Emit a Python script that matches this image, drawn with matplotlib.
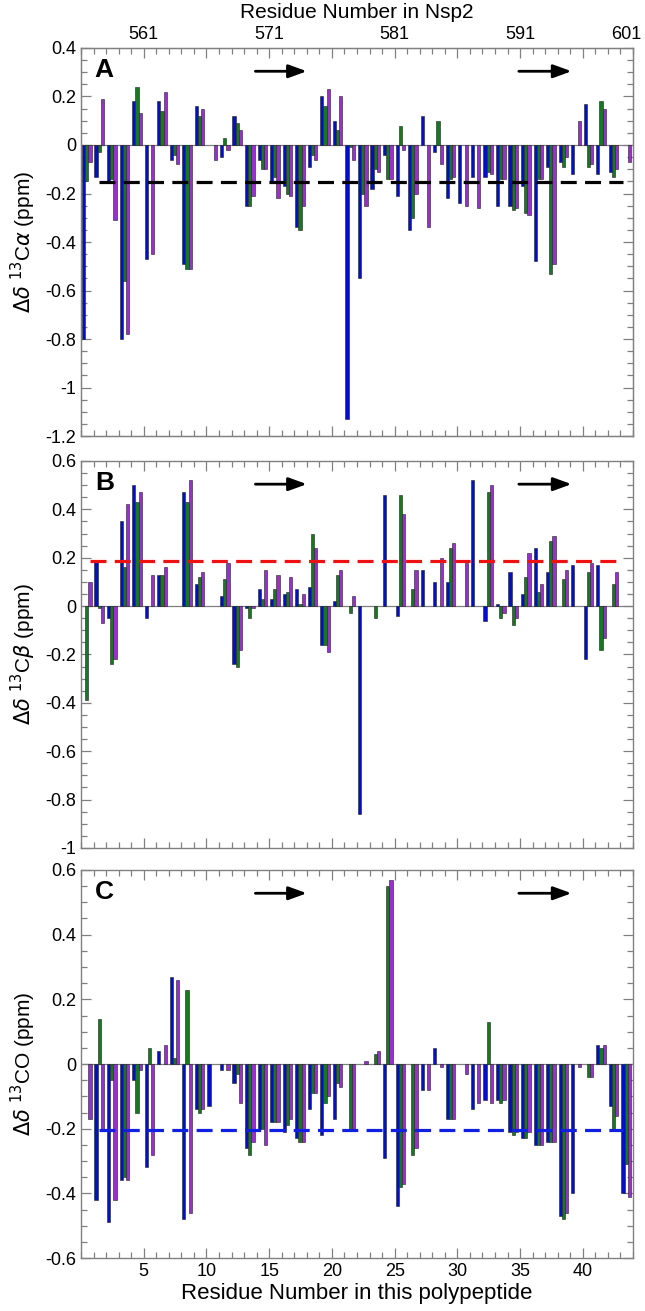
"""Chemical shift deviations (Ca, Cb, CO) per residue, three panels."""

import numpy as np
import matplotlib
matplotlib.use("Agg")
import matplotlib.pyplot as plt
from matplotlib.ticker import MultipleLocator, FuncFormatter

nan = np.nan
plt.rcParams['font.family'] = ['Liberation Sans', 'DejaVu Sans']

# residue index (0..43), bar group for each
residues = np.arange(44)

# panel A: delta 13C alpha
ca_blue = [-0.80, -0.13, -0.15, -0.80, 0.18, -0.47, 0.18, -0.06, -0.49, 0.16,
           nan, -0.05, 0.12, -0.25, -0.06, -0.15, -0.17, -0.34, -0.09, 0.20,
           0.10, -1.13, -0.55, -0.18, -0.04, -0.21, -0.35, 0.12, -0.03, -0.22,
           -0.24, -0.13, -0.13, -0.25, -0.25, -0.17, -0.48, -0.09, -0.07, -0.12,
           0.17, -0.12, -0.11, nan]
ca_green = [-0.15, -0.03, -0.14, -0.56, 0.24, nan, 0.14, -0.04, -0.51, 0.12,
            nan, 0.03, 0.09, -0.25, -0.10, -0.13, -0.20, -0.35, -0.04, 0.16,
            0.06, -0.01, -0.20, -0.10, -0.14, 0.08, -0.30, nan, 0.10, -0.14,
            nan, nan, -0.11, -0.14, -0.27, -0.28, -0.14, -0.53, -0.09, nan,
            -0.09, 0.18, -0.13, nan]
ca_purple = [-0.07, 0.19, -0.31, -0.78, 0.13, -0.45, 0.22, -0.08, -0.51, 0.15,
             -0.06, -0.02, 0.06, -0.21, -0.10, -0.22, -0.21, -0.25, -0.06, 0.23,
             0.20, -0.06, -0.25, -0.11, -0.14, -0.02, -0.20, -0.34, -0.08, -0.13,
             -0.25, -0.26, -0.12, -0.14, -0.26, -0.29, -0.14, -0.49, -0.05, 0.10,
             -0.08, 0.15, -0.10, -0.07]

# panel B: delta 13C beta
cb_blue = [nan, 0.19, -0.05, 0.35, 0.50, -0.05, 0.13, nan, 0.47, 0.09,
           nan, 0.04, -0.24, -0.01, 0.07, 0.03, 0.05, 0.07, 0.08, -0.16,
           0.02, nan, -0.86, nan, 0.46, -0.04, nan, 0.15, 0.10, 0.10,
           nan, 0.52, -0.06, 0.01, 0.14, 0.05, 0.24, 0.14, nan, 0.17,
           -0.22, 0.17, nan, nan]
cb_green = [-0.39, -0.01, -0.24, 0.16, 0.43, nan, 0.13, nan, 0.43, 0.12,
            nan, 0.11, -0.25, -0.05, 0.03, 0.07, 0.06, 0.01, 0.30, -0.16,
            0.13, -0.03, nan, -0.05, nan, 0.46, 0.07, nan, nan, 0.24,
            nan, nan, 0.47, -0.05, -0.08, 0.12, 0.06, 0.27, 0.11, nan,
            0.14, -0.18, 0.09, nan]
cb_purple = [0.10, -0.07, -0.22, 0.42, 0.47, 0.13, 0.16, nan, 0.52, 0.14,
             nan, 0.18, -0.18, -0.01, 0.15, 0.13, 0.12, 0.05, 0.24, -0.19,
             0.15, 0.04, nan, nan, nan, 0.38, 0.15, nan, 0.20, 0.26,
             0.18, nan, 0.50, -0.03, -0.05, 0.22, 0.09, 0.29, 0.15, nan,
             0.18, -0.13, 0.14, nan]

# panel C: delta 13CO
co_blue = [nan, -0.42, -0.49, -0.36, -0.05, -0.32, 0.04, 0.27, -0.48, -0.14,
           -0.13, -0.02, -0.06, -0.26, -0.20, -0.18, -0.21, -0.23, -0.14, -0.22,
           -0.17, nan, nan, nan, -0.29, -0.44, nan, -0.08, 0.05, -0.17,
           nan, -0.14, -0.11, -0.11, -0.21, -0.23, -0.25, -0.24, -0.47, -0.40,
           nan, 0.06, -0.13, -0.40]
co_green = [nan, 0.14, -0.05, -0.35, -0.15, 0.05, nan, 0.02, 0.23, -0.15,
            nan, nan, -0.03, -0.28, -0.20, -0.18, -0.19, -0.24, -0.09, -0.12,
            -0.06, -0.20, nan, 0.03, 0.55, -0.38, -0.28, nan, nan, -0.17,
            nan, nan, 0.13, -0.12, -0.22, -0.23, -0.25, -0.24, -0.48, nan,
            -0.04, 0.05, -0.20, -0.31]
co_purple = [-0.17, -0.20, -0.42, -0.36, -0.02, -0.28, 0.06, 0.26, -0.46, -0.14,
             nan, -0.02, -0.12, -0.24, -0.25, -0.18, -0.17, -0.24, -0.09, -0.10,
             -0.07, -0.20, 0.01, 0.04, 0.57, -0.37, -0.26, -0.08, -0.01, -0.17,
             -0.03, -0.12, -0.12, -0.11, -0.21, -0.21, -0.25, -0.24, -0.46, -0.01,
             -0.04, 0.06, -0.16, -0.41]

# dashed reference levels
ca_level = -0.153
cb_level = 0.188
co_level = -0.205

bottom_ticks = [5, 10, 15, 20, 25, 30, 35, 40]
top_ticks = [5, 10, 15, 20, 25, 30, 35, 40]
top_labels = ['561', '', '571', '', '581', '', '591', '']
top_last = ('601', 43.5)   # label sitting at the right end

BLUE = '#0010c8'
GREEN = '#17791f'
PURPLE = '#9a2fd0'
GREY = '#808080'


def fmt(v, pos):
    return '%g' % round(v, 2)


def draw_panel(ax, blue, green, purple, level, level_color, level_x,
               ylim, letter, ylabel):
    w = 0.255
    ax.bar(residues + 0.2, blue, w, color=BLUE, edgecolor='#202020', lw=0.4, zorder=2)
    ax.bar(residues + 0.455, green, w, color=GREEN, edgecolor='#202020', lw=0.4, zorder=2)
    ax.bar(residues + 0.71, purple, w, color=PURPLE, edgecolor='#202020', lw=0.4, zorder=2)
    ax.axhline(0, color=GREY, lw=0.9, zorder=1)
    ax.hlines(level, level_x[0], level_x[1], colors=level_color, lw=2.3,
              linestyles=(0, (5, 2.6)), zorder=3)

    ax.set_xlim(0, 44)
    ax.set_ylim(*ylim)
    ax.set_xticks(bottom_ticks)
    ax.xaxis.set_minor_locator(MultipleLocator(1))
    ax.yaxis.set_major_locator(MultipleLocator(0.2))
    ax.yaxis.set_minor_locator(MultipleLocator(0.05))
    ax.yaxis.set_major_formatter(FuncFormatter(fmt))
    ax.tick_params(which='both', direction='in', top=True, right=True,
                   color=GREY, labelsize=13, width=0.9)
    ax.tick_params(which='major', length=7)
    ax.tick_params(which='minor', length=4)
    for s in ax.spines.values():
        s.set_color(GREY)
        s.set_linewidth(1.0)

    ax.set_ylabel(ylabel, fontsize=15, labelpad=5)
    ax.text(0.025, 0.975, letter, transform=ax.transAxes, fontsize=19,
            fontweight='bold', va='top', ha='left')
    # beta strand arrows
    for x0, x1 in [(13.9, 18.0), (34.9, 39.1)]:
        ax.annotate('', xy=(x1, 0.94), xytext=(x0, 0.94),
                    xycoords=('data', 'axes fraction'),
                    textcoords=('data', 'axes fraction'),
                    arrowprops=dict(arrowstyle='-|>,head_length=1.1,head_width=0.4',
                                    lw=2, color='black', shrinkA=0, shrinkB=0))


fig = plt.figure(figsize=(6.45, 13.11), dpi=100)
axA = fig.add_axes([0.1256, 0.6674, 0.8558, 0.2960])
axB = fig.add_axes([0.1256, 0.3532, 0.8558, 0.2952])
axC = fig.add_axes([0.1256, 0.0404, 0.8558, 0.2960])

draw_panel(axA, ca_blue, ca_green, ca_purple, ca_level, 'black', (1.4, 43.2),
           (-1.2, 0.4), 'A', r'$\Delta\delta$ $^{13}$C$\alpha$ (ppm)')
draw_panel(axB, cb_blue, cb_green, cb_purple, cb_level, '#ee1111', (0.7, 43.3),
           (-1.0, 0.6), 'B', r'$\Delta\delta$ $^{13}$C$\beta$ (ppm)')
draw_panel(axC, co_blue, co_green, co_purple, co_level, '#1020e0', (1.4, 43.2),
           (-0.6, 0.6), 'C', r'$\Delta\delta$ $^{13}$CO (ppm)')

axA.tick_params(labelbottom=False)
axB.tick_params(labelbottom=False)
axC.set_xlabel('Residue Number in this polypeptide', fontsize=16, labelpad=2)

top = axA.twiny()
top.set_xlim(axA.get_xlim())
top.set_xticks(top_ticks)
top.set_xticklabels(top_labels)
top.xaxis.set_minor_locator(MultipleLocator(1))
top.tick_params(which='both', direction='in', color=GREY, labelsize=13, width=0.9)
top.tick_params(which='major', length=7)
top.tick_params(which='minor', length=4)
top.set_xlabel('Residue Number in Nsp2', fontsize=15, labelpad=6)
for s in top.spines.values():
    s.set_color(GREY)
lbl, pos = top_last
top.annotate(lbl, xy=(pos, 1.0), xycoords=top.get_xaxis_transform(),
             xytext=(0, 3.5), textcoords='offset points',
             ha='center', va='bottom', fontsize=13)

fig.savefig('out.png', dpi=100)
